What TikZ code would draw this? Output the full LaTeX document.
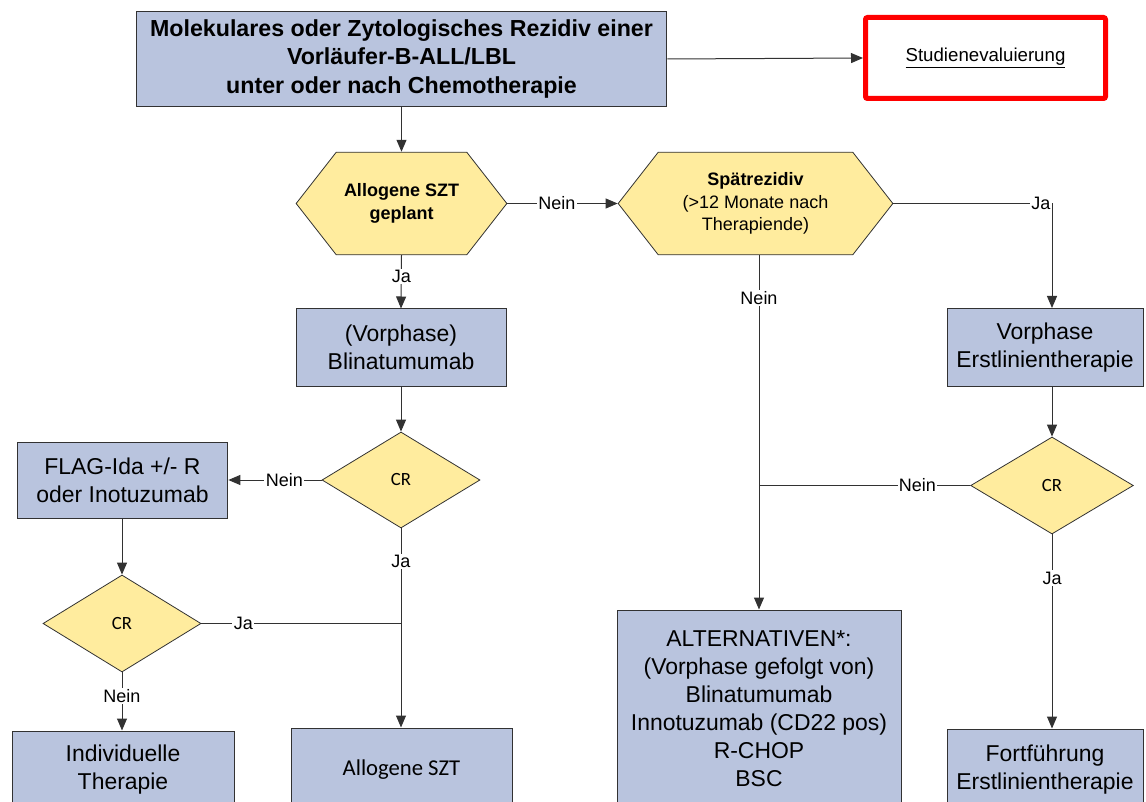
\documentclass[tikz,border=0pt]{standalone}
\usepackage{fontspec}
\setmainfont{Liberation Sans}
\newfontfamily\calibrifont{Carlito}
\usetikzlibrary{shapes.geometric, shapes.symbols, arrows.meta, positioning, calc}
\definecolor{cBox}{RGB}{185,196,222}
\definecolor{cDec}{RGB}{255,236,158}
\definecolor{cLine}{RGB}{50,50,50}
\definecolor{cStudy}{RGB}{255,0,0}
\tikzset{
	box/.style    ={rectangle, draw=cLine, line width=0.75pt, fill=cBox, align=center, inner sep=2pt, font=\fontsize{17.2}{21}\selectfont},
	topbox/.style ={box, font=\bfseries\fontsize{17.4}{21.2}\selectfont},
	studybox/.style={rectangle, draw=cStudy, line width=3.75pt, rounded corners=1.5pt, fill=white, align=center, font=\fontsize{14}{17}\selectfont},
	hexbox/.style ={signal, signal to=west and east, signal pointer angle=104, draw=cLine, line width=0.6pt, fill=cDec, align=center, inner sep=0pt, font=\fontsize{13.5}{17}\selectfont},
	crdia/.style  ={diamond, draw=cLine, line width=0.6pt, fill=cDec, inner sep=0pt, font=\calibrifont\fontsize{14}{16}\selectfont},
	conn/.style   ={draw=cLine, line width=0.75pt},
	arr/.style    ={conn, -{Triangle[length=9pt, width=7.5pt]}},
	lbl/.style    ={fill=white, inner sep=1pt, font=\fontsize{13.5}{16}\selectfont},
}
\begin{document}
\begin{tikzpicture}[x=0.75pt, y=-0.75pt]
	\useasboundingbox (0,0) rectangle (1146,802);
	\clip (0,0) rectangle (1146,802);
	% boxes
	\node[topbox, minimum width=398pt, minimum height=71pt] (relapse) at (401.5,59)
		{Molekulares oder Zytologisches Rezidiv einer\\Vorläufer-B-ALL/LBL\\unter oder nach Chemotherapie};
	\node[studybox, minimum width=180pt, minimum height=60.75pt] (study) at (985.5,58) {\underline{Studienevaluierung}};
	\node[hexbox, minimum width=158pt, minimum height=77pt] (allosct) at (401.5,203.5) {\textbf{Allogene SZT}\\\textbf{geplant}};
	\node[hexbox, minimum width=206pt, minimum height=77pt] (late) at (755.5,203.5) {\textbf{Spätrezidiv}\\(>12 Monate nach\\Therapiende)};
	\node[box, minimum width=157.5pt, minimum height=57.75pt] (blina) at (401,347.5) {(Vorphase)\\Blinatumumab};
	\node[box, minimum width=147pt, minimum height=58.5pt] (firstline) at (1045,347.5) {Vorphase\\Erstlinientherapie};
	\node[crdia, minimum width=118.5pt, minimum height=72pt] (cr1) at (401,480) {CR};
	\node[box, minimum width=158pt, minimum height=57pt] (flag) at (122.5,480) {FLAG-Ida +/- R\\oder Inotuzumab};
	\node[crdia, minimum width=122pt, minimum height=72.75pt] (cr3) at (1052,485.5) {CR};
	\node[crdia, minimum width=118.5pt, minimum height=72.75pt] (cr2) at (122,623.5) {CR};
	\node[box, minimum width=213pt, minimum height=148.5pt] (alt) at (759,709)
		{ALTERNATIVEN*:\\(Vorphase gefolgt von)\\Blinatumumab\\Innotuzumab (CD22 pos)\\R-CHOP\\BSC};
	\node[box, minimum width=166.5pt, minimum height=58.5pt] (indiv) at (123,770) {Individuelle\\Therapie};
	\node[box, minimum width=165.75pt, minimum height=63pt, font=\calibrifont\fontsize{17}{20}\selectfont] (allo) at (401.5,770) {Allogene SZT};
	\node[box, minimum width=147pt, minimum height=61.5pt] (cont) at (1045,770) {Fortführung\\Erstlinientherapie};
	% connectors
	\draw[arr] (relapse.east) -- (study.west);
	\draw[arr] (relapse.south) -- (allosct.north);
	\draw[arr] (allosct.east) -- node[lbl, pos=0.45] {Nein} (late.west);
	\draw[arr] (late.east) -- node[lbl, pos=0.93] {Ja} (late.east -| cr3.north) -- (cr3.north |- firstline.north);
	\draw[arr] (allosct.south) -- node[lbl, pos=0.4] {Ja} (blina.north);
	\draw[arr] (blina.south) -- (cr1.north);
	\draw[arr] (cr1.west) -- node[lbl, pos=0.4] {Nein} (flag.east);
	\draw[arr] (flag.south -| cr2.north) -- (cr2.north);
	\draw[arr] (cr1.south) -- node[lbl, pos=0.165] {Ja} (cr1.south |- allo.north);
	\draw[conn] (cr2.east) -- node[lbl, pos=0.21] {Ja} (cr2.east -| cr1.south);
	\draw[arr] (cr2.south) -- node[lbl, pos=0.41] {Nein} (indiv.north -| cr2.south);
	\draw[arr] (alt.north |- late.south) -- node[lbl, pos=0.12] {Nein} (alt.north);
	\draw[arr] (cr3.north |- firstline.south) -- (cr3.north);
	\draw[conn] (cr3.west) -- node[lbl, pos=0.25] {Nein} (cr3.west -| alt.north);
	\draw[arr] (cr3.south) -- node[lbl, pos=0.225] {Ja} (cr3.south |- cont.north);
\end{tikzpicture}
\end{document}
